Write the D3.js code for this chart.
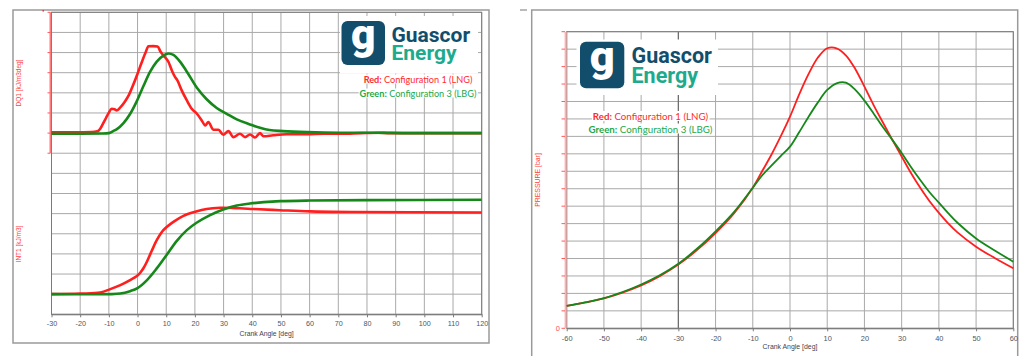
<!DOCTYPE html>
<html><head><meta charset="utf-8">
<script src="https://cdn.jsdelivr.net/npm/d3@7"></script>
<style>
html,body{margin:0;padding:0;background:#fff;}
svg{display:block;}
</style></head><body>
<svg id="chart" width="1021" height="356"></svg>
<script>
// ---- Heat release panel: DQ1 rate [kJ/m3deg] ----
const dq1RedAngle = [-30,-22,-16,-14,-13,-12,-11,-10,-9,-8,-7.2,-6,-4.5,-3,-1.5,0,1.5,2.8,3.8,5.5,7,8,9,10.8,12,13.1,13.9,15.4,17.2,18.9,20.7,22.4,23.6,24.7,26.4,28.2,29.9,31.7,33.4,35.7,37.5,39.2,41,42.7,43.9,47.3,52,59,65,71,78,84,88,95,120];
const dq1Red      = [0.4,0.4,0.5,0.9,2.2,4.8,7.5,10.2,12.1,11.8,11.3,12.8,15.5,19,24,29.5,35.3,40,43.1,43.2,43,40.5,38.6,35.3,31,27.8,26.2,21.2,16.2,12.1,9.6,6.3,3.8,5.5,1.7,1.7,-0.8,1.0,-2,-0.3,-2,-0.7,-2.2,0,-1.6,-1.1,-0.6,-0.6,-0.3,-0.3,0,0.2,0,0,0];
const dq1GreenAngle = [-30,-20,-12,-10,-8.5,-7.2,-4.9,-2.6,-0.2,2.1,4.4,6.7,9,10.8,12.5,14.8,17.2,20.7,24.1,27.6,31.1,34.6,39.2,42.7,46,50.8,59,70.6,82,95,120];
const dq1Green      = [-0.3,-0.3,-0.2,0,1.0,2.0,5.0,9.5,16,23.5,30.5,35.5,38.5,39.5,38.8,35.5,30.5,22.5,16.8,12.5,9.6,6.8,4.3,2.6,1.5,1.0,0.5,0.2,0.2,0,0];

// ---- Heat release panel: INT1 cumulative [kJ/m3] ----
const int1RedAngle = [-30,-20,-13,-9.5,-6,-2.6,0,1,2.1,3.3,4.4,5.5,6.7,9,12.5,16,20.1,24.1,28.8,35.7,40.4,49.7,60.1,75.2,120];
const int1Red      = [0,6,16,50,90,140,185,215,260,325,395,465,536,636,718,778,818,846,858,853,846,834,822,816,812];
const int1GreenAngle = [-30,-10,-6,-2.6,0,3.3,6.7,10.2,13.7,17.2,20.7,25.3,29.9,34.6,39.2,44,49.7,60.1,79.8,120];
const int1Green      = [0,0,6,30,60,140,256,392,530,636,712,786,842,880,900,914,924,930,934,938];

// ---- Cylinder pressure panel [bar] ----
const pressureAngle = [-60,-55,-50,-45,-40,-35,-30,-25,-20,-15,-10,-7.5,-5,-2.5,0,2.5,5,7.5,10,12.5,15,17.5,20,22.5,25,27.5,30,32.5,35,37.5,40,42.5,45,50,55,60];
const pressureRed   = [12.8,14.8,17.2,20.5,24.6,29.9,36.5,44.8,54.6,66.0,80.6,90.0,99.5,110,121.3,134.2,145.8,155.2,160.5,160.5,156.5,148.8,138.5,127.8,117.8,108,98.5,89,80.5,72.8,66.2,60.2,55,46.8,40.3,34.4];
const pressureGreen = [12.8,14.9,17.3,20.8,25.1,30.4,37.0,45.6,55.6,66.8,80.6,87.6,93.2,98.7,104.1,112.5,121.3,129.5,136.6,140.4,140.8,136.8,130.5,123,115.2,108,100.5,92.5,85,78,72,66,60.5,51.5,44.6,38.2];

// ---- Tick labels ----
const angleTicksLeft  = [-30,-20,-10,0,10,20,30,40,50,60,70,80,90,100,110,120];
const angleTicksRight = [-60,-50,-40,-30,-20,-10,0,10,20,30,40,50,60];
const pressureTickLabels = [0];

const RED = "#ff1f1f", GREEN = "#16881a";
const GRID = "#a9a9a9", AXIS = "#7a7a7a", FRAME = "#9a9a9a";
const TICKTXT = "#4d5563";
const LOGO_BLUE = "#124e6b", LOGO_TEAL = "#1eaa8c";
const SANS = "Liberation Sans, Arial, sans-serif";

const svg = d3.select("#chart");

// ---------- Left panel ----------
const L = {x0: 51.5, x1: 481.7, y0: 12.3, y1: 314.3};
svg.append("rect").attr("x", 13).attr("y", 10).attr("width", 476).attr("height", 333)
  .attr("fill", "none").attr("stroke", FRAME).attr("stroke-width", 1.5);

const xL = d3.scaleLinear().domain([-30, 120]).range([L.x0, L.x1]);
const gridL = d3.scaleLinear().domain([0, 15]).range([L.y1, L.y0]);
const yDQ1 = d3.scaleLinear().domain([-10, 60]).range([gridL(8), gridL(15)]);
const yINT1 = d3.scaleLinear().domain([-200, 2800]).range([L.y1, L.y0]);

const gL = svg.append("g");
gL.selectAll("line.hg").data(d3.range(0, 16)).join("line")
  .attr("x1", L.x0).attr("x2", L.x1).attr("y1", d => gridL(d)).attr("y2", d => gridL(d))
  .attr("stroke", GRID).attr("stroke-width", 1);
gL.selectAll("line.vg").data(angleTicksLeft).join("line")
  .attr("x1", d => xL(d)).attr("x2", d => xL(d)).attr("y1", L.y0).attr("y2", L.y1)
  .attr("stroke", GRID).attr("stroke-width", 1);
gL.append("rect").attr("x", L.x0).attr("y", L.y0).attr("width", L.x1 - L.x0).attr("height", L.y1 - L.y0)
  .attr("fill", "none").attr("stroke", AXIS).attr("stroke-width", 1);

// DQ1 axis (red) on the upper half
gL.append("line").attr("x1", 50.3).attr("x2", 50.3).attr("y1", yDQ1(60)).attr("y2", yDQ1(-10))
  .attr("stroke", "#ff7a7a").attr("stroke-width", 1.6);
gL.selectAll("line.dq1t").data(d3.range(-10, 61, 10)).join("line")
  .attr("x1", 47.5).attr("x2", 50.3).attr("y1", d => yDQ1(d)).attr("y2", d => yDQ1(d))
  .attr("stroke", "#ff5a5a").attr("stroke-width", 1);
gL.append("rect").attr("x", 42.5).attr("y", 10).attr("width", 1.5).attr("height", 1.5).attr("fill", "#e33");

svg.append("text").attr("transform", "translate(20.5,83) rotate(-90)")
  .attr("text-anchor", "middle").attr("font-family", SANS)
  .attr("font-size", 6.5).attr("fill", "#ff4040").text("DQ1 [kJ/m3deg]");
svg.append("text").attr("transform", "translate(20.5,244) rotate(-90)")
  .attr("text-anchor", "middle").attr("font-family", SANS)
  .attr("font-size", 6.5).attr("fill", "#ff4040").text("INT1 [kJ/m3]");

// x axis
const axL = d3.axisBottom(xL).tickValues(angleTicksLeft).tickFormat(d => String(d))
  .tickSize(3).tickPadding(4).tickSizeOuter(0);
const axGL = svg.append("g").attr("transform", `translate(0,${L.y1})`).call(axL);
axGL.select(".domain").attr("stroke", AXIS);
axGL.selectAll(".tick line").attr("stroke", AXIS);
axGL.selectAll(".tick text").attr("fill", TICKTXT).attr("font-size", 7.2).attr("font-family", SANS);
svg.append("text").attr("x", (L.x0 + L.x1) / 2).attr("y", 333).attr("dominant-baseline", "central")
  .attr("text-anchor", "middle").attr("font-family", SANS)
  .attr("font-size", 6.8).attr("fill", "#3d4350").text("Crank Angle [deg]");

const lineL = (ys, angles, curve) => d3.line().x((d, i) => xL(angles[i])).y(d => ys(d)).curve(curve);
const curvesL = svg.append("g").attr("fill", "none").attr("stroke-width", 2.6).attr("stroke-linejoin", "round");
const smooth = d3.curveCatmullRom.alpha(0.5);
curvesL.append("path").datum(int1Red).attr("stroke", RED).attr("d", lineL(yINT1, int1RedAngle, smooth));
curvesL.append("path").datum(int1Green).attr("stroke", GREEN).attr("d", lineL(yINT1, int1GreenAngle, smooth));
curvesL.append("path").datum(dq1Red).attr("stroke", RED).attr("d", lineL(yDQ1, dq1RedAngle, d3.curveMonotoneX));
curvesL.append("path").datum(dq1Green).attr("stroke", GREEN).attr("d", lineL(yDQ1, dq1GreenAngle, d3.curveMonotoneX));

// ---------- Right panel ----------
const R = {x0: 566.7, x1: 1013.3, y0: 31.7, y1: 328.3};
svg.append("rect").attr("x", 531.7).attr("y", 10).attr("width", 486).attr("height", 360)
  .attr("fill", "none").attr("stroke", FRAME).attr("stroke-width", 1.5);
svg.append("line").attr("x1", 520).attr("x2", 527).attr("y1", 10).attr("y2", 10)
  .attr("stroke", "#777").attr("stroke-width", 1);

const xR = d3.scaleLinear().domain([-60, 60]).range([R.x0, R.x1]);
const yP = d3.scaleLinear().domain([0, 170]).range([R.y1, R.y0]);
const gR = svg.append("g");
gR.selectAll("line.hg").data(d3.range(0, 171, 10)).join("line")
  .attr("x1", R.x0).attr("x2", R.x1).attr("y1", d => yP(d)).attr("y2", d => yP(d))
  .attr("stroke", GRID).attr("stroke-width", 1);
gR.selectAll("line.vg").data(angleTicksRight).join("line")
  .attr("x1", d => xR(d)).attr("x2", d => xR(d)).attr("y1", R.y0).attr("y2", R.y1)
  .attr("stroke", d => d === -30 ? "#6e6e6e" : GRID).attr("stroke-width", d => d === -30 ? 1.3 : 1);
gR.append("rect").attr("x", R.x0).attr("y", R.y0).attr("width", R.x1 - R.x0).attr("height", R.y1 - R.y0)
  .attr("fill", "none").attr("stroke", AXIS).attr("stroke-width", 1);

// pressure axis (red)
gR.append("line").attr("x1", 565.6).attr("x2", 565.6).attr("y1", R.y0).attr("y2", R.y1)
  .attr("stroke", "#ffb0b0").attr("stroke-width", 2);
gR.selectAll("line.pt").data(d3.range(0, 171, 10)).join("line")
  .attr("x1", 561.5).attr("x2", 565).attr("y1", d => yP(d)).attr("y2", d => yP(d))
  .attr("stroke", "#ff5a5a").attr("stroke-width", 1);
gR.selectAll("text.pl").data(pressureTickLabels).join("text")
  .attr("x", 560).attr("y", d => yP(d)).attr("dominant-baseline", "central").attr("text-anchor", "end")
  .attr("font-family", SANS).attr("font-size", 7.5).attr("fill", "#ff5050")
  .text(d => d);
svg.append("text").attr("transform", "translate(540,180) rotate(-90)")
  .attr("text-anchor", "middle").attr("font-family", SANS)
  .attr("font-size", 6.9).attr("fill", "#ff4040").text("PRESSURE [bar]");

const axR = d3.axisBottom(xR).tickValues(angleTicksRight).tickFormat(d => String(d))
  .tickSize(3).tickPadding(4).tickSizeOuter(0);
const axGR = svg.append("g").attr("transform", `translate(0,${R.y1})`).call(axR);
axGR.select(".domain").attr("stroke", AXIS);
axGR.selectAll(".tick line").attr("stroke", AXIS);
axGR.selectAll(".tick text").attr("fill", TICKTXT).attr("font-size", 7.4).attr("font-family", SANS);
svg.append("text").attr("x", (R.x0 + R.x1) / 2).attr("y", 346).attr("dominant-baseline", "central")
  .attr("text-anchor", "middle").attr("font-family", SANS)
  .attr("font-size", 6.9).attr("fill", "#3d4350").text("Crank Angle [deg]");

const lineR = d3.line().x((d, i) => xR(pressureAngle[i])).y(d => yP(d)).curve(smooth);
const curvesR = svg.append("g").attr("fill", "none").attr("stroke-width", 1.8);
curvesR.append("path").datum(pressureRed).attr("stroke", RED).attr("d", lineR);
curvesR.append("path").datum(pressureGreen).attr("stroke", GREEN).attr("d", lineR);

// ---------- Logo and legend ----------
function logo(o) {
  const g = svg.append("g");
  g.append("rect").attr("x", o.bx).attr("y", o.by).attr("width", o.bw).attr("height", o.bh).attr("fill", "#fff");
  g.append("rect").attr("x", o.sx).attr("y", o.sy).attr("width", o.ss).attr("height", o.ssh)
    .attr("rx", 6).attr("fill", LOGO_BLUE);
  g.append("text").attr("x", o.sx + o.ss / 2).attr("y", o.sy + o.ssh * 0.64).attr("text-anchor", "middle")
    .attr("font-family", "Roboto, sans-serif").attr("font-weight", 900).attr("font-size", o.ss * 0.98)
    .attr("fill", "#fff").text("g");
  // two-line wordmark
  const wm = g.append("text").attr("x", o.tx).attr("y", o.t1).attr("font-family", "Roboto, sans-serif")
    .attr("font-weight", 700).attr("font-size", o.fs);
  wm.append("tspan").attr("x", o.tx).attr("fill", LOGO_BLUE).text("Guascor");
  wm.append("tspan").attr("x", o.tx).attr("dy", o.t2 - o.t1).attr("fill", LOGO_TEAL).text("Energy");

  const rows = [
    {lab: "Red:", txt: " Configuration 1 (LNG)", col: "#ff2b2b", y: o.l1},
    {lab: "Green:", txt: " Configuration 3 (LBG)", col: "#23a84a", y: o.l2}
  ];
  const texts = rows.map(r => {
    const t = g.append("text").attr("x", o.lx).attr("y", r.y).attr("text-anchor", "middle")
      .attr("dominant-baseline", "central").attr("font-family", "Lato, 'Open Sans', sans-serif")
      .attr("font-size", 10).attr("fill", r.col);
    t.append("tspan").attr("font-weight", 700).text(r.lab);
    t.append("tspan").text(r.txt);
    return t;
  });
  // size the legend lines to the width of the green line
  const k = o.lw / texts[1].node().getComputedTextLength();
  texts.forEach(t => t.attr("font-size", 10 * k));
  texts.forEach(t => {
    const bb = t.node().getBBox();
    g.insert("rect", () => t.node()).attr("x", bb.x - 1).attr("y", bb.y + 1).attr("width", bb.width + 2)
      .attr("height", bb.height - 2).attr("fill", "#fff");
  });
}
logo({bx: 340, by: 16, bw: 138, bh: 57.5, sx: 341.5, sy: 21, ss: 43.5, ssh: 44,
      tx: 391.5, t1: 41.5, t2: 60, fs: 21,
      lx: 418, l1: 79, l2: 93, lw: 117});
logo({bx: 576.5, by: 39.5, bw: 141.5, bh: 55.5, sx: 580, sy: 41.7, ss: 44.3, ssh: 46.5,
      tx: 631.5, t1: 63.3, t2: 82.5, fs: 21.5,
      lx: 650.5, l1: 116, l2: 128.5, lw: 124});
</script>
</body></html>
